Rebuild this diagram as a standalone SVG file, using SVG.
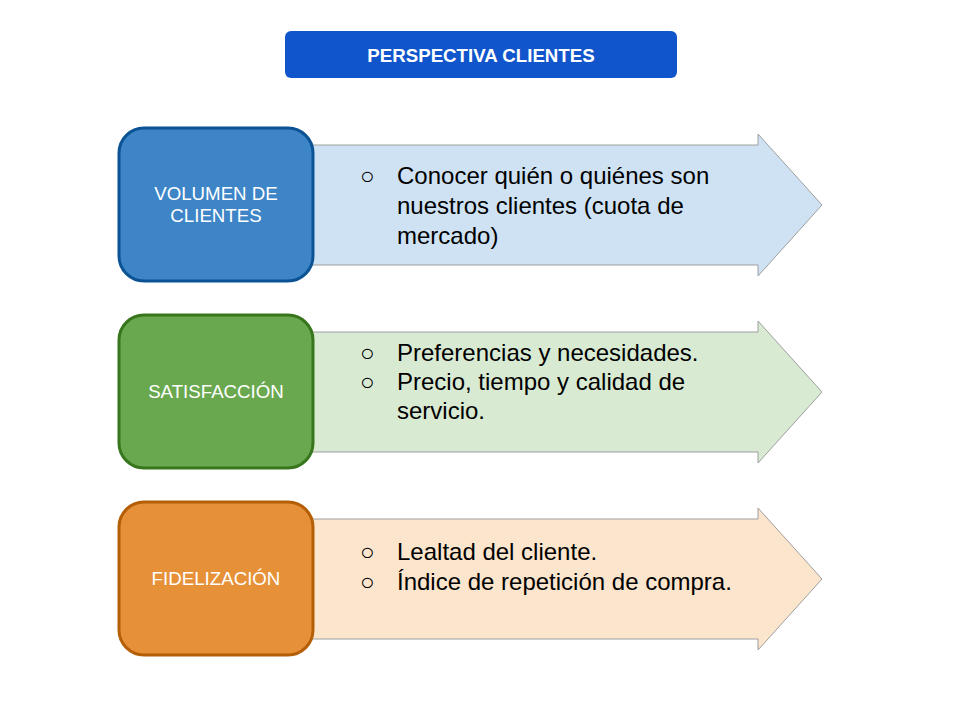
<svg xmlns="http://www.w3.org/2000/svg" width="960" height="720" viewBox="0 0 960 720">
<style>
.arrow{stroke:#9e9e9e;stroke-width:1}
.box{stroke-width:3}
.lbl{font-family:"Liberation Sans",Arial,sans-serif;font-size:18.7px;fill:#ffffff;text-anchor:middle}
.txt{font-family:"Liberation Sans",Arial,sans-serif;font-size:24px;fill:#000000}
.title{font-family:"Liberation Sans",Arial,sans-serif;font-size:18.7px;font-weight:bold;fill:#ffffff;text-anchor:middle}
</style>
<rect width="960" height="720" fill="#ffffff"/>
<g id="title">
<rect x="285" y="31" width="392" height="47" rx="6" fill="#1155cc"/>
<text class="title" x="481" y="62">PERSPECTIVA CLIENTES</text>
</g>
<g id="arrow1">
<path class="arrow" d="M300,145 H758 V134 L822,205 L758,276 V265 H300 Z" fill="#cfe2f3"/>
<text class="txt"><tspan x="360" y="184">○</tspan><tspan x="397" y="184">Conocer quién o quiénes son</tspan><tspan x="397" y="214">nuestros clientes (cuota de</tspan><tspan x="397" y="244">mercado)</tspan></text>
</g>
<g id="volumen">
<rect class="box" x="119" y="128" width="194" height="153" rx="25" fill="#3d85c6" stroke="#0b5394"/>
<text class="lbl"><tspan x="216" y="200">VOLUMEN DE</tspan><tspan x="216" y="222">CLIENTES</tspan></text>
</g>
<g id="arrow2">
<path class="arrow" d="M300,332 H758 V321 L822,392 L758,463 V452 H300 Z" fill="#d9ead3"/>
<text class="txt"><tspan x="360" y="361">○</tspan><tspan x="397" y="361">Preferencias y necesidades.</tspan><tspan x="360" y="390">○</tspan><tspan x="397" y="390">Precio, tiempo y calidad de</tspan><tspan x="397" y="419">servicio.</tspan></text>
</g>
<g id="satisfaccion">
<rect class="box" x="119" y="315" width="194" height="153" rx="25" fill="#6aa84f" stroke="#38761d"/>
<text class="lbl" x="216" y="398">SATISFACCIÓN</text>
</g>
<g id="arrow3">
<path class="arrow" d="M300,519 H758 V508 L822,579 L758,650 V639 H300 Z" fill="#fce5cd"/>
<text class="txt"><tspan x="360" y="560">○</tspan><tspan x="397" y="560">Lealtad del cliente.</tspan><tspan x="360" y="590">○</tspan><tspan x="397" y="590">Índice de repetición de compra.</tspan></text>
</g>
<g id="fidelizacion">
<rect class="box" x="119" y="502" width="194" height="153" rx="25" fill="#e69138" stroke="#b45f06"/>
<text class="lbl" x="216" y="585">FIDELIZACIÓN</text>
</g>
</svg>
